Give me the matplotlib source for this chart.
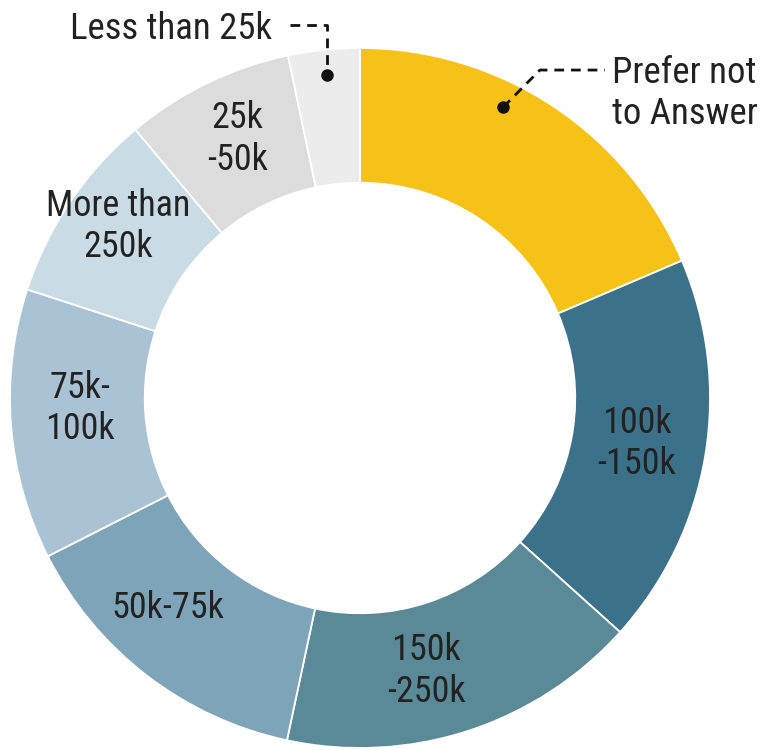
import matplotlib
matplotlib.use("Agg")
import matplotlib.pyplot as plt

# income brackets, clockwise from 12 o'clock (share of respondents, %)
categories = ["Prefer not\nto Answer", "100k\n-150k", "150k\n-250k", "50k-75k",
              "75k-\n100k", "More than\n250k", "25k\n-50k", "Less than 25k"]
shares = [18.6, 18.1, 16.7, 14.2, 12.5, 8.9, 7.8, 3.3]
colors = ["#F6C217", "#3B7189", "#5A8A97", "#7EA4B9", "#A9C3D4",
          "#C9DBE4", "#DCDCDC", "#ECECEC"]

# text positions (data units, donut radius = 1)
label_pos = [(0.72, 0.87), (0.79, -0.13), (0.19, -0.78), (-0.55, -0.60),
             (-0.80, -0.03), (-0.69, 0.49), (-0.35, 0.74), (-0.25, 1.055)]
label_ha = ["left", "center", "center", "center", "center", "center", "center", "right"]

plt.rcParams["font.family"] = ["Roboto Condensed", "DejaVu Sans"]

fig = plt.figure(figsize=(7.69, 7.5), dpi=100)
ax = fig.add_axes([0, 0, 1, 1])

wedges, _ = ax.pie(shares, colors=colors, startangle=90, counterclock=False,
                   radius=1.0, wedgeprops=dict(width=0.385, edgecolor="white", linewidth=1.3))

for lab, (x, y), ha in zip(categories, label_pos, label_ha):
    fs = 26.5 if ha != "center" else 26
    ax.text(x, y, lab, ha=ha, va="center", fontsize=fs, color="#222222",
            linespacing=1.2)

# leader lines
dash = (0, (3.5, 2.5))
ax.plot([0.409, 0.514, 0.70], [0.831, 0.937, 0.937], ls=dash, color="#111111", lw=2)
ax.plot([0.409], [0.831], "o", color="#111111", ms=8)
ax.plot([-0.20, -0.094, -0.094], [1.065, 1.065, 0.923], ls=dash, color="#111111", lw=2)
ax.plot([-0.094], [0.923], "o", color="#111111", ms=8)

ax.set_xlim(-360 / 350, 409 / 350)
ax.set_ylim(-352 / 350, 398 / 350)
ax.set_aspect("equal")
ax.axis("off")

fig.savefig("out.png", dpi=100)
